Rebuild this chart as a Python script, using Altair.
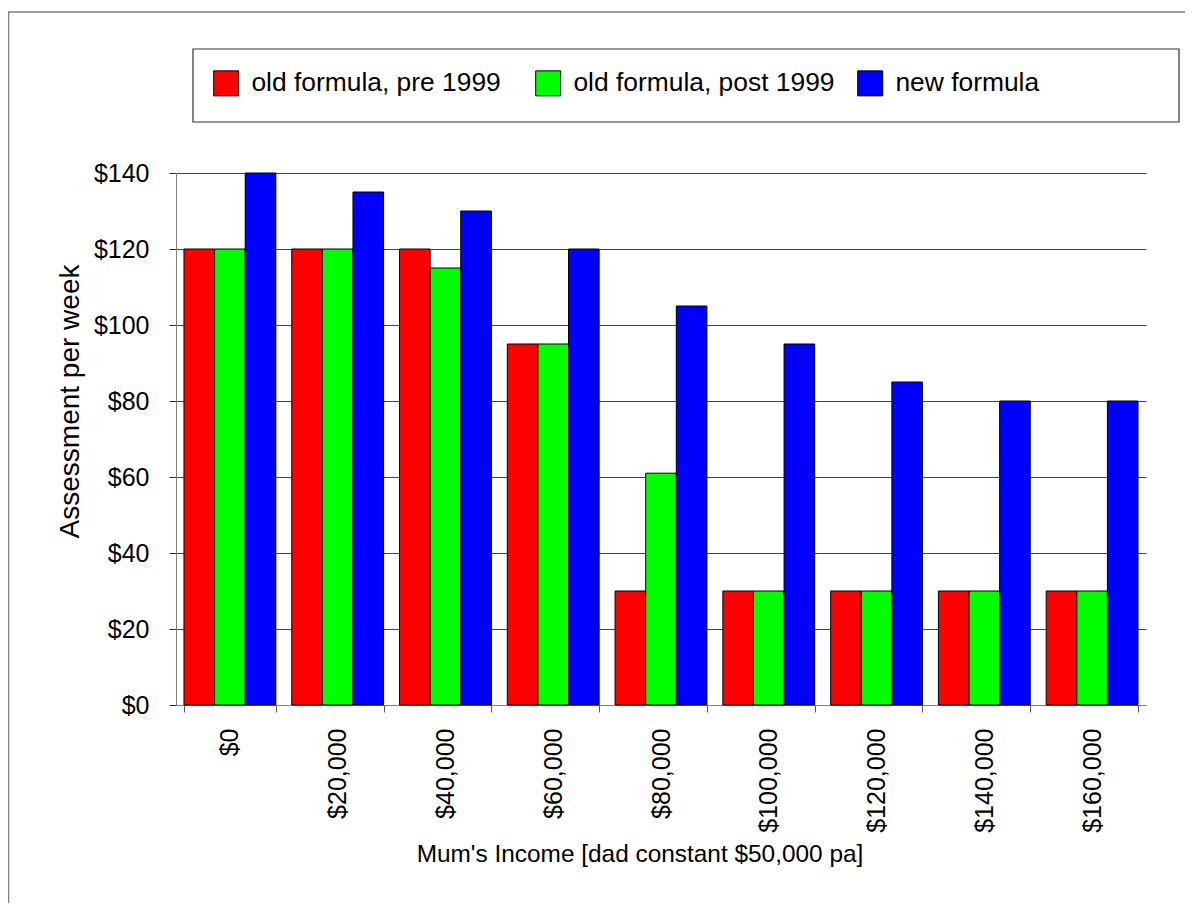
import altair as alt
import pandas as pd

categories = ["$0", "$20,000", "$40,000", "$60,000", "$80,000",
              "$100,000", "$120,000", "$140,000", "$160,000"]
series_names = ["old formula, pre 1999", "old formula, post 1999", "new formula"]
old_pre_1999 = [120, 120, 120, 95, 30, 30, 30, 30, 30]
old_post_1999 = [120, 120, 115, 95, 61, 30, 30, 30, 30]
new_formula = [140, 135, 130, 120, 105, 95, 85, 80, 80]
colors = ["#FF0000", "#00FF00", "#0000FF"]
y_ticks = [0, 20, 40, 60, 80, 100, 120, 140]

rows = []
for name, vals in zip(series_names, [old_pre_1999, old_post_1999, new_formula]):
    for c, v in zip(categories, vals):
        rows.append({"income": c, "series": name, "value": v})
df = pd.DataFrame(rows)

FONT = "Liberation Sans"
W, H = 970, 532

one = pd.DataFrame({"k": [0]})

frame = alt.Chart(one).mark_rect(
    fillOpacity=0, stroke="#7f7f7f", strokeWidth=1.5
).encode(
    x=alt.value(-167.5), x2=alt.value(W + 200),
    y=alt.value(-161), y2=alt.value(H + 400)
)

legend_box = alt.Chart(one).mark_rect(
    fillOpacity=0, stroke="#333333", strokeWidth=1.2
).encode(
    x=alt.value(17), x2=alt.value(1003),
    y=alt.value(-124), y2=alt.value(-51)
)

bars = alt.Chart(df).mark_bar(stroke="#000000", strokeWidth=1).encode(
    x=alt.X("income:N", sort=categories,
            scale=alt.Scale(paddingInner=0.148, paddingOuter=0.074),
            axis=alt.Axis(title="Mum's Income [dad constant $50,000 pa]",
                          labelAngle=-90, labelAlign="right", labelBaseline="middle",
                          labelFontSize=25, labelPadding=16, tickBand="extent",
                          tickSize=7, tickColor="#555555", domainColor="#808080",
                          titleFontSize=24.4, titleFontWeight="normal",
                          titleX=463.5, titleAlign="center", titlePadding=10)),
    xOffset=alt.XOffset("series:N", sort=series_names,
                        scale=alt.Scale(paddingInner=0, paddingOuter=0)),
    y=alt.Y("value:Q",
            scale=alt.Scale(domain=[0, 140], nice=False),
            axis=alt.Axis(title="Assessment per week", values=y_ticks, format="$,.0f",
                          labelFontSize=25, labelPadding=20, tickSize=7,
                          tickColor="#333333", domainColor="#808080",
                          grid=True, gridColor="#444444", gridWidth=1,
                          titleFontSize=28, titleFontWeight="normal",
                          titleAngle=-90, titleX=-98, titleY=228,
                          titleAlign="center", titleBaseline="alphabetic")),
    color=alt.Color("series:N", sort=series_names,
                    scale=alt.Scale(domain=series_names, range=colors),
                    legend=alt.Legend(title=None, orient="none", legendX=37, legendY=-103,
                                      direction="horizontal", symbolType="square",
                                      symbolSize=625, symbolStrokeColor="#000000",
                                      symbolStrokeWidth=1, symbolOpacity=1,
                                      labelFontSize=26.4, labelOffset=12, labelLimit=500,
                                      gridAlign="all", columnPadding=20, padding=0,
                                      labelColor="#000000")),
)

chart = alt.layer(frame, legend_box, bars).properties(
    width=W, height=H,
    autosize=alt.AutoSizeParams(type="none"),
    padding={"left": 168, "top": 165, "right": 39, "bottom": 198},
).configure(
    font=FONT,
    background="#ffffff",
).configure_view(
    stroke=None
).configure_axis(
    labelFont=FONT, titleFont=FONT, labelColor="#000000", titleColor="#000000"
).configure_legend(
    labelFont=FONT
)

chart.save("out.html", embed_options={"renderer": "svg", "actions": False})
